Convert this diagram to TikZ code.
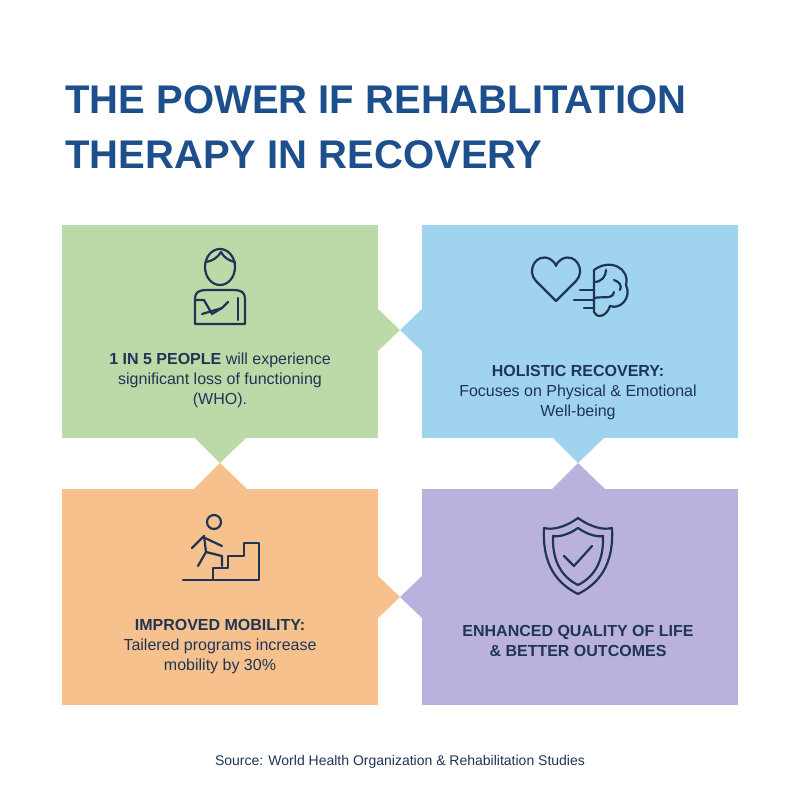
\documentclass[tikz,border=0pt]{standalone}
\usepackage{fontspec}
\setmainfont{Liberation Sans}
\usetikzlibrary{positioning}
\definecolor{titleblue}{HTML}{1D4F8C}
\definecolor{inkblue}{HTML}{1E3556}
\definecolor{boxgreen}{HTML}{BCD9A8}
\definecolor{boxblue}{HTML}{A0D3EE}
\definecolor{boxorange}{HTML}{F7C18E}
\definecolor{boxpurple}{HTML}{BAB1DF}
\tikzset{
  panel/.style={draw=none,minimum width=316pt,minimum height=213pt,anchor=north west},
  txt/.style={text=inkblue,align=center,font=\fontsize{16}{20}\selectfont},
  icon/.style={draw=inkblue,line width=2.2pt,line cap=round,line join=round}
}
\begin{document}
\begin{tikzpicture}[x=1pt,y=-1pt]
    \useasboundingbox[fill=white] (0,0) rectangle (800,800);
    %%%%%%%%%% Titolo %%%%%%%%%%
    \node[anchor=west,text=titleblue,font=\fontsize{40}{44}\bfseries\selectfont] (title1) at (62,100) {THE POWER IF REHABLITATION};
    \node[anchor=west,text=titleblue,font=\fontsize{40}{44}\bfseries\selectfont] (title2) at (62,155) {THERAPY IN RECOVERY};

    %%%%%%%%%% Pannelli %%%%%%%%%%
    \node[panel,fill=boxgreen] (green) at (62,225) {};
    \node[panel,fill=boxblue] (blue) at (422,225) {};
    \node[panel,fill=boxorange,minimum height=216pt] (orange) at (62,489) {};
    \node[panel,fill=boxpurple,minimum height=216pt] (purple) at (422,489) {};

    %%%%%%%%% Punte %%%%%%%%%
    \fill[boxgreen] (377,308) -- (400,330) -- (377,352) -- cycle;
    \fill[boxblue] (423,308) -- (400,330) -- (423,352) -- cycle;
    \fill[boxgreen] (193,436) -- (220,463) -- (248,436) -- cycle;
    \fill[boxorange] (193,490) -- (220,463) -- (248,490) -- cycle;
    \fill[boxblue] (551,436) -- (578,463) -- (606,436) -- cycle;
    \fill[boxpurple] (551,490) -- (578,463) -- (606,490) -- cycle;
    \fill[boxorange] (377,575) -- (400,597) -- (377,619) -- cycle;
    \fill[boxpurple] (423,575) -- (400,597) -- (423,619) -- cycle;

    %%%%%%%%% Icone %%%%%%%%%
    % persona con braccio al collo
    \draw[icon] (220,267) ellipse (15pt and 18pt);
    \draw[icon] (206,262) .. controls (213,261) and (218,257) .. (221,252)
                .. controls (224,258) and (230,261) .. (235,262);
    \draw[icon] (195,324) -- (195,298) .. controls (195,292) and (200,290) .. (206,290)
                -- (234,290) .. controls (240,290) and (245,292) .. (245,298) -- (245,324) -- cycle;
    \draw[icon] (238,298) -- (238,320);
    \draw[icon] (196,300) -- (204,300) -- (212,314) -- (222,308);
    \draw[icon] (202,314) -- (222,308) -- (228,302);
    % cuore e cervello
    \draw[icon] (556,301) -- (536,281) .. controls (526,271) and (536,252) .. (550,259)
                .. controls (553,261) and (556,264) .. (556,266)
                .. controls (556,264) and (559,261) .. (562,259)
                .. controls (576,252) and (586,271) .. (576,281) -- cycle;
    \draw[icon] (594,270) .. controls (610,258) and (630,268) .. (626,285)
                .. controls (632,298) and (620,310) .. (610,306)
                .. controls (606,318) and (596,318) .. (594,312) -- cycle;
    \draw[icon] (594,282) .. controls (602,282) and (606,276) .. (606,270);
    \draw[icon] (594,298) .. controls (604,296) and (612,300) .. (614,292);
    \draw[icon] (614,280) .. controls (620,282) and (622,286) .. (620,290);
    \draw[icon] (594,290) -- (580,290) (594,300) -- (574,300) (594,308) -- (584,308);
    % persona sulle scale
    \draw[icon] (183,580) -- (213,580) -- (213,568) -- (228,568) -- (228,556) -- (244,556)
                -- (244,543) -- (259,543) -- (259,580) -- (183,580);
    \draw[icon] (214,522) circle (7pt);
    \draw[icon] (204,536) -- (206,552) -- (198,566);
    \draw[icon] (206,552) -- (222,556) -- (222,566);
    \draw[icon] (204,536) -- (192,548) (205,538) -- (222,546);
    % scudo con spunta
    \draw[icon] (578,518) .. controls (592,528) and (604,530) .. (612,528)
                .. controls (614,566) and (598,584) .. (578,594)
                .. controls (558,584) and (542,566) .. (544,528)
                .. controls (552,530) and (564,528) .. (578,518) -- cycle;
    \draw[icon] (578,528) .. controls (588,535) and (597,537) .. (603,536)
                .. controls (604,564) and (592,578) .. (578,585)
                .. controls (564,578) and (552,564) .. (553,536)
                .. controls (559,537) and (568,535) .. (578,528) -- cycle;
    \draw[icon] (564,556) -- (574,566) -- (592,546);

    %%%%%%%%% Testi %%%%%%%%%
    \node[txt] (t1) at (220,380) {\textbf{1 IN 5 PEOPLE} will experience\\significant loss of functioning\\(WHO).};
    \node[txt] (t2) at (578,393) {\textbf{HOLISTIC RECOVERY:}\\Focuses on Physical \& Emotional\\Well-being};
    \node[txt] (t3) at (220,647) {\textbf{IMPROVED MOBILITY:}\\Tailered programs increase\\mobility by 30\%};
    \node[txt] (t4) at (578,641) {\textbf{ENHANCED QUALITY OF LIFE}\\\textbf{\& BETTER OUTCOMES}};
    \node[txt,font=\fontsize{14}{17}\selectfont] (src) at (400,762) {Source: World Health Organization \& Rehabilitation Studies};
\end{tikzpicture}
\end{document}
